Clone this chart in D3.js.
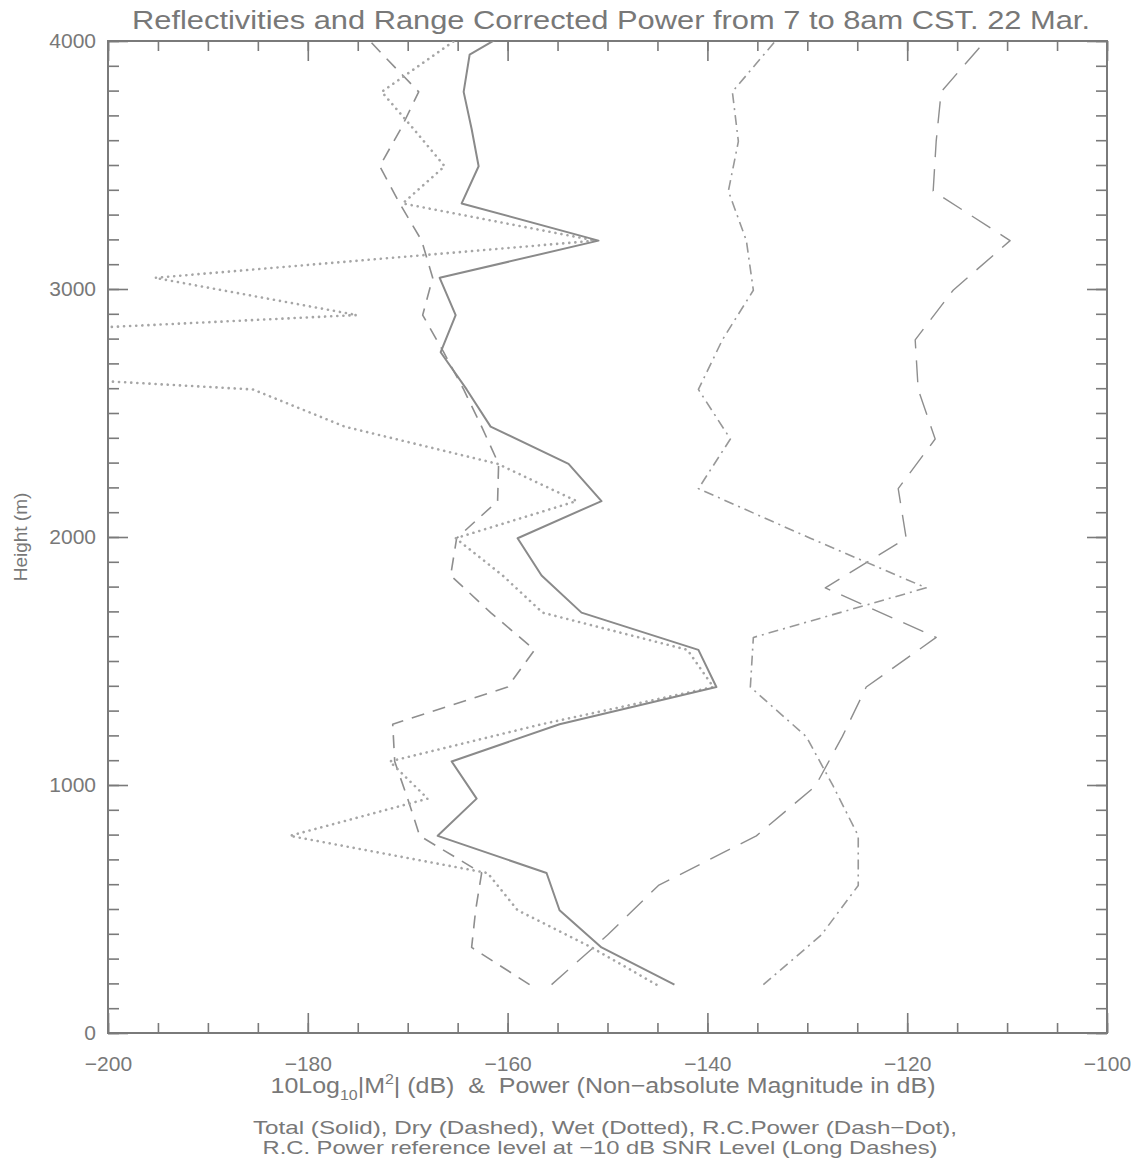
<!DOCTYPE html>
<html>
<head>
<meta charset="utf-8">
<script src="https://cdn.jsdelivr.net/npm/d3@7"></script>
<style>
  body { margin: 0; background: #fff; }
  text { font-family: "Liberation Sans", "DejaVu Sans", sans-serif; fill: #787878; }
</style>
</head>
<body>
<div id="chart"></div>
<script>
// heights (m) of the reflectivity profiles, 150 m steps
let heights = [195, 345, 495, 645, 795, 945, 1095, 1245, 1395, 1545, 1695, 1845, 1995, 2145,
  2295, 2445, 2595, 2745, 2895, 3045, 3195, 3345, 3495, 3645, 3795, 3945, 4095];

let total = [-143.3, -150.6, -154.8, -156.1, -167.0, -163.1, -165.6, -154.8, -139.1, -140.9,
  -152.6, -156.6, -159.0, -150.6, -153.9, -161.7, -164.1, -166.7, -165.2, -166.8, -150.9,
  -164.6, -162.9, -163.6, -164.4, -163.8, -157.4];

let dry = [-157.8, -163.6, -163.2, -162.6, -168.8, -170.0, -171.3, -171.5, -160.0, -157.3,
  -161.7, -165.7, -165.1, -161.0, -160.9, -162.6, -164.4, -166.4, -168.5, -167.5, -168.6,
  -170.8, -172.8, -170.7, -168.9, -172.5, -176.0];

let wet = [-145.1, -151.6, -159.0, -162.0, -181.8, -168.0, -171.8, -156.6, -139.4, -142.0,
  -156.5, -160.5, -165.2, -153.1, -161.0, -176.3, -185.5, -252.0, -175.1, -195.3, -151.2,
  -170.5, -166.3, -169.4, -172.6, -167.3, -162.0];

// heights (m) of the power profiles, 200 m steps
let powerHeights = [195, 395, 595, 795, 995, 1195, 1395, 1595, 1795, 1995, 2195, 2395, 2595,
  2795, 2995, 3195, 3395, 3595, 3795, 3995];

let rcPower = [-134.4, -128.6, -124.9, -124.9, -127.4, -130.1, -135.7, -135.4, -118.1, -129.7,
  -140.9, -137.7, -140.9, -138.5, -135.4, -136.1, -137.9, -136.9, -137.5, -133.3];

let refLevel = [-155.6, -150.0, -144.9, -135.1, -129.2, -126.5, -124.1, -117.1, -128.2, -120.1,
  -120.9, -117.2, -118.9, -119.2, -115.4, -109.7, -117.4, -117.1, -116.6, -112.3];

let xLabelTicks = [-200, -180, -160, -140, -120, -100];
let yLabelTicks = [0, 1000, 2000, 3000, 4000];

let W = 1141, H = 1167;
let margin = { top: 41, right: 34, bottom: 134, left: 108 },
  width = W - margin.left - margin.right,
  height = H - margin.top - margin.bottom;

let svg = d3.select("#chart")
  .append("svg")
  .attr("width", W)
  .attr("height", H);

let g = svg.append("g")
  .attr("transform", "translate(" + margin.left + "," + margin.top + ")");

let x = d3.scaleLinear().domain([-200, -100]).range([0, width]);
let y = d3.scaleLinear().domain([0, 4000]).range([height, 0]);

let axisColor = "#7a7a7a";
let fmt = function (d) { return String(d).replace("-", "\u2212"); };

// minor ticks (every 5 dB / 100 m), inward
g.append("g")
  .attr("transform", "translate(0," + height + ")")
  .call(d3.axisBottom(x).tickValues(d3.range(-200, -99, 5)).tickSize(-10).tickFormat(""));
g.append("g")
  .call(d3.axisTop(x).tickValues(d3.range(-200, -99, 5)).tickSize(-10).tickFormat(""));
g.append("g")
  .call(d3.axisLeft(y).tickValues(d3.range(0, 4001, 100)).tickSize(-11).tickFormat(""));
g.append("g")
  .attr("transform", "translate(" + width + ",0)")
  .call(d3.axisRight(y).tickValues(d3.range(0, 4001, 100)).tickSize(-11).tickFormat(""));

// major ticks with labels
g.append("g")
  .attr("class", "xlab")
  .attr("transform", "translate(0," + height + ")")
  .call(d3.axisBottom(x).tickValues(xLabelTicks).tickSize(-20).tickPadding(4).tickFormat(fmt));
g.append("g")
  .call(d3.axisTop(x).tickValues(xLabelTicks).tickSize(-20).tickFormat(""));
g.append("g")
  .attr("class", "ylab")
  .call(d3.axisLeft(y).tickValues(yLabelTicks).tickSize(-20).tickPadding(-8).tickFormat(fmt));
g.append("g")
  .attr("transform", "translate(" + width + ",0)")
  .call(d3.axisRight(y).tickValues(yLabelTicks).tickSize(-20).tickFormat(""));

g.selectAll(".domain").remove();
g.selectAll(".tick line").attr("stroke", axisColor).attr("stroke-width", 1.6);
g.selectAll(".xlab text")
  .attr("dy", "1.6em")
  .style("font-size", "21px")
  .style("font-family", "Liberation Sans, sans-serif")
  .attr("fill", "#787878");
g.selectAll(".ylab text")
  .attr("x", -12)
  .style("font-size", "21px")
  .style("font-family", "Liberation Sans, sans-serif")
  .attr("fill", "#787878");

// frame
g.append("rect")
  .attr("width", width)
  .attr("height", height)
  .attr("fill", "none")
  .attr("stroke", axisColor)
  .attr("stroke-width", 2);

g.append("clipPath").attr("id", "plotclip")
  .append("rect").attr("width", width).attr("height", height);

let plot = g.append("g").attr("clip-path", "url(#plotclip)");

let line = d3.line().x(function (d) { return x(d.v); }).y(function (d) { return y(d.h); });

function pairs(hs, vs) {
  return hs.map(function (h, i) { return { h: h, v: vs[i] }; });
}

let series = [
  { data: pairs(powerHeights, refLevel), color: "#8e8e8e", width: 1.4, dash: "22,12", cap: "butt" },
  { data: pairs(powerHeights, rcPower), color: "#989898", width: 1.6, dash: "10,5,2,5", cap: "butt" },
  { data: pairs(heights, dry), color: "#8e8e8e", width: 1.6, dash: "13,9", cap: "butt" },
  { data: pairs(heights, wet), color: "#a6a6a6", width: 2.6, dash: "0.1,6", cap: "round" },
  { data: pairs(heights, total), color: "#8a8a8a", width: 2, dash: null, cap: "butt" }
];

series.forEach(function (s) {
  plot.append("path")
    .datum(s.data)
    .attr("d", line)
    .attr("fill", "none")
    .attr("stroke", s.color)
    .attr("stroke-width", s.width)
    .attr("stroke-linecap", s.cap)
    .attr("stroke-linejoin", "round")
    .attr("stroke-dasharray", s.dash);
});

// titles
svg.append("text")
  .attr("x", 611)
  .attr("y", 29)
  .attr("text-anchor", "middle")
  .attr("textLength", 958)
  .attr("lengthAdjust", "spacingAndGlyphs")
  .style("font-size", "25px")
  .text("Reflectivities and Range Corrected Power from 7 to 8am CST. 22 Mar.");

svg.append("text")
  .attr("transform", "translate(27," + (margin.top + height / 2) + ") rotate(-90)")
  .attr("text-anchor", "middle")
  .style("font-size", "19px")
  .text("Height (m)");

let xt = svg.append("text")
  .attr("x", 603)
  .attr("y", 1093)
  .attr("text-anchor", "middle")
  .attr("textLength", 665)
  .attr("lengthAdjust", "spacingAndGlyphs")
  .style("font-size", "22px");
xt.append("tspan").text("10Log");
xt.append("tspan").attr("dy", 7).style("font-size", "14px").text("10");
xt.append("tspan").attr("dy", -7).text("|M");
xt.append("tspan").attr("dy", -9).style("font-size", "14px").text("2");
xt.append("tspan").attr("dy", 9).text("| (dB)\u00a0\u00a0&\u00a0\u00a0Power (Non\u2212absolute Magnitude in dB)");

svg.append("text")
  .attr("x", 605)
  .attr("y", 1134)
  .attr("text-anchor", "middle")
  .attr("textLength", 704)
  .attr("lengthAdjust", "spacingAndGlyphs")
  .style("font-size", "19px")
  .text("Total (Solid), Dry (Dashed), Wet (Dotted), R.C.Power (Dash\u2212Dot),");

svg.append("text")
  .attr("x", 600)
  .attr("y", 1154)
  .attr("text-anchor", "middle")
  .attr("textLength", 675)
  .attr("lengthAdjust", "spacingAndGlyphs")
  .style("font-size", "19px")
  .text("R.C. Power reference level at \u221210 dB SNR Level (Long Dashes)");
</script>
</body>
</html>
